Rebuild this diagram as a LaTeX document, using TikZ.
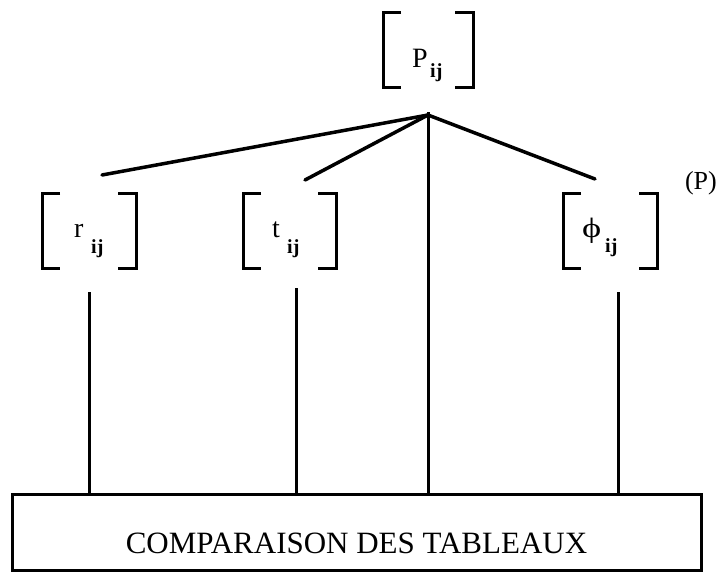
\documentclass[tikz,border=0pt]{standalone}
\usepackage{fontspec}
\setmainfont{Liberation Serif}
\begin{document}
\begin{tikzpicture}[x=1pt,y=-1pt,
  brk/.style={line width=3pt, line cap=butt, line join=miter},
  conn/.style={line width=3.5pt, line cap=round},
  vline/.style={line width=3pt},
  bracketbox/.style={minimum height=75pt, inner sep=0pt, outer sep=0pt, draw=none},
  mainletter/.style={inner sep=0pt, anchor=base west, font=\fontsize{28}{28}\selectfont},
  sublabel/.style={inner sep=0pt, anchor=base west, font=\fontsize{20}{20}\selectfont\bfseries},
  bigbox/.style={draw, line width=3pt, minimum width=689pt, minimum height=76pt, inner sep=0pt}]
\useasboundingbox (0,0) rectangle (718,573);

% bracket frames
\node[bracketbox, minimum width=90pt] (bp) at (428,49.5) {};
\node[bracketbox, minimum width=94pt] (br) at (89,230.5) {};
\node[bracketbox, minimum width=93pt] (bt) at (289.5,230.5) {};
\node[bracketbox, minimum width=94pt] (bf) at (610,230.5) {};
\foreach \n in {bp,br,bt,bf}{
  \draw[brk] ([xshift=18pt]\n.north west) -| (\n.south west) -- ([xshift=18pt]\n.south west);
  \draw[brk] ([xshift=-18pt]\n.north east) -| (\n.south east) -- ([xshift=-18pt]\n.south east);
}

% labels
\node[mainletter] (lp) at (412,67) {P};
\node[sublabel] (sp) at (430,77) {ij};
\node[mainletter] (lr) at (74,237) {r};
\node[sublabel] (sr) at (91,253) {ij};
\node[mainletter] (lt) at (272,237) {t};
\node[sublabel] (st) at (287,253) {ij};
\node[mainletter] (lf) at (582,237) {\scalebox{1.3}[1]{ϕ}};
\node[sublabel] (sf) at (605,252) {ij};
\node[inner sep=0pt, anchor=base east, font=\fontsize{26}{26}\selectfont] (plabel) at (717,189) {(P)};

% bottom box
\node[bigbox] (box) at (356.5,532) {};
\node[inner sep=0pt, anchor=base, font=\fontsize{31}{31}\selectfont] (boxlabel) at (356.5,553) {COMPARAISON DES TABLEAUX};

% hub and free ends
\coordinate (hub) at (428,115);
\coordinate (er) at (102,175);
\coordinate (et) at (305,180);
\coordinate (ef) at (595,179);
\coordinate (dr) at (89,292);
\coordinate (dt) at (296,288);
\coordinate (df) at (618,292);

\draw[conn] (hub) -- (er);
\draw[conn] (hub) -- (et);
\draw[conn] (hub) -- (ef);
\draw[vline] ([yshift=3pt]hub) -- (hub |- box.north);
\draw[vline] (dr) -- (dr |- box.north);
\draw[vline] (dt) -- (dt |- box.north);
\draw[vline] (df) -- (df |- box.north);
\end{tikzpicture}
\end{document}
